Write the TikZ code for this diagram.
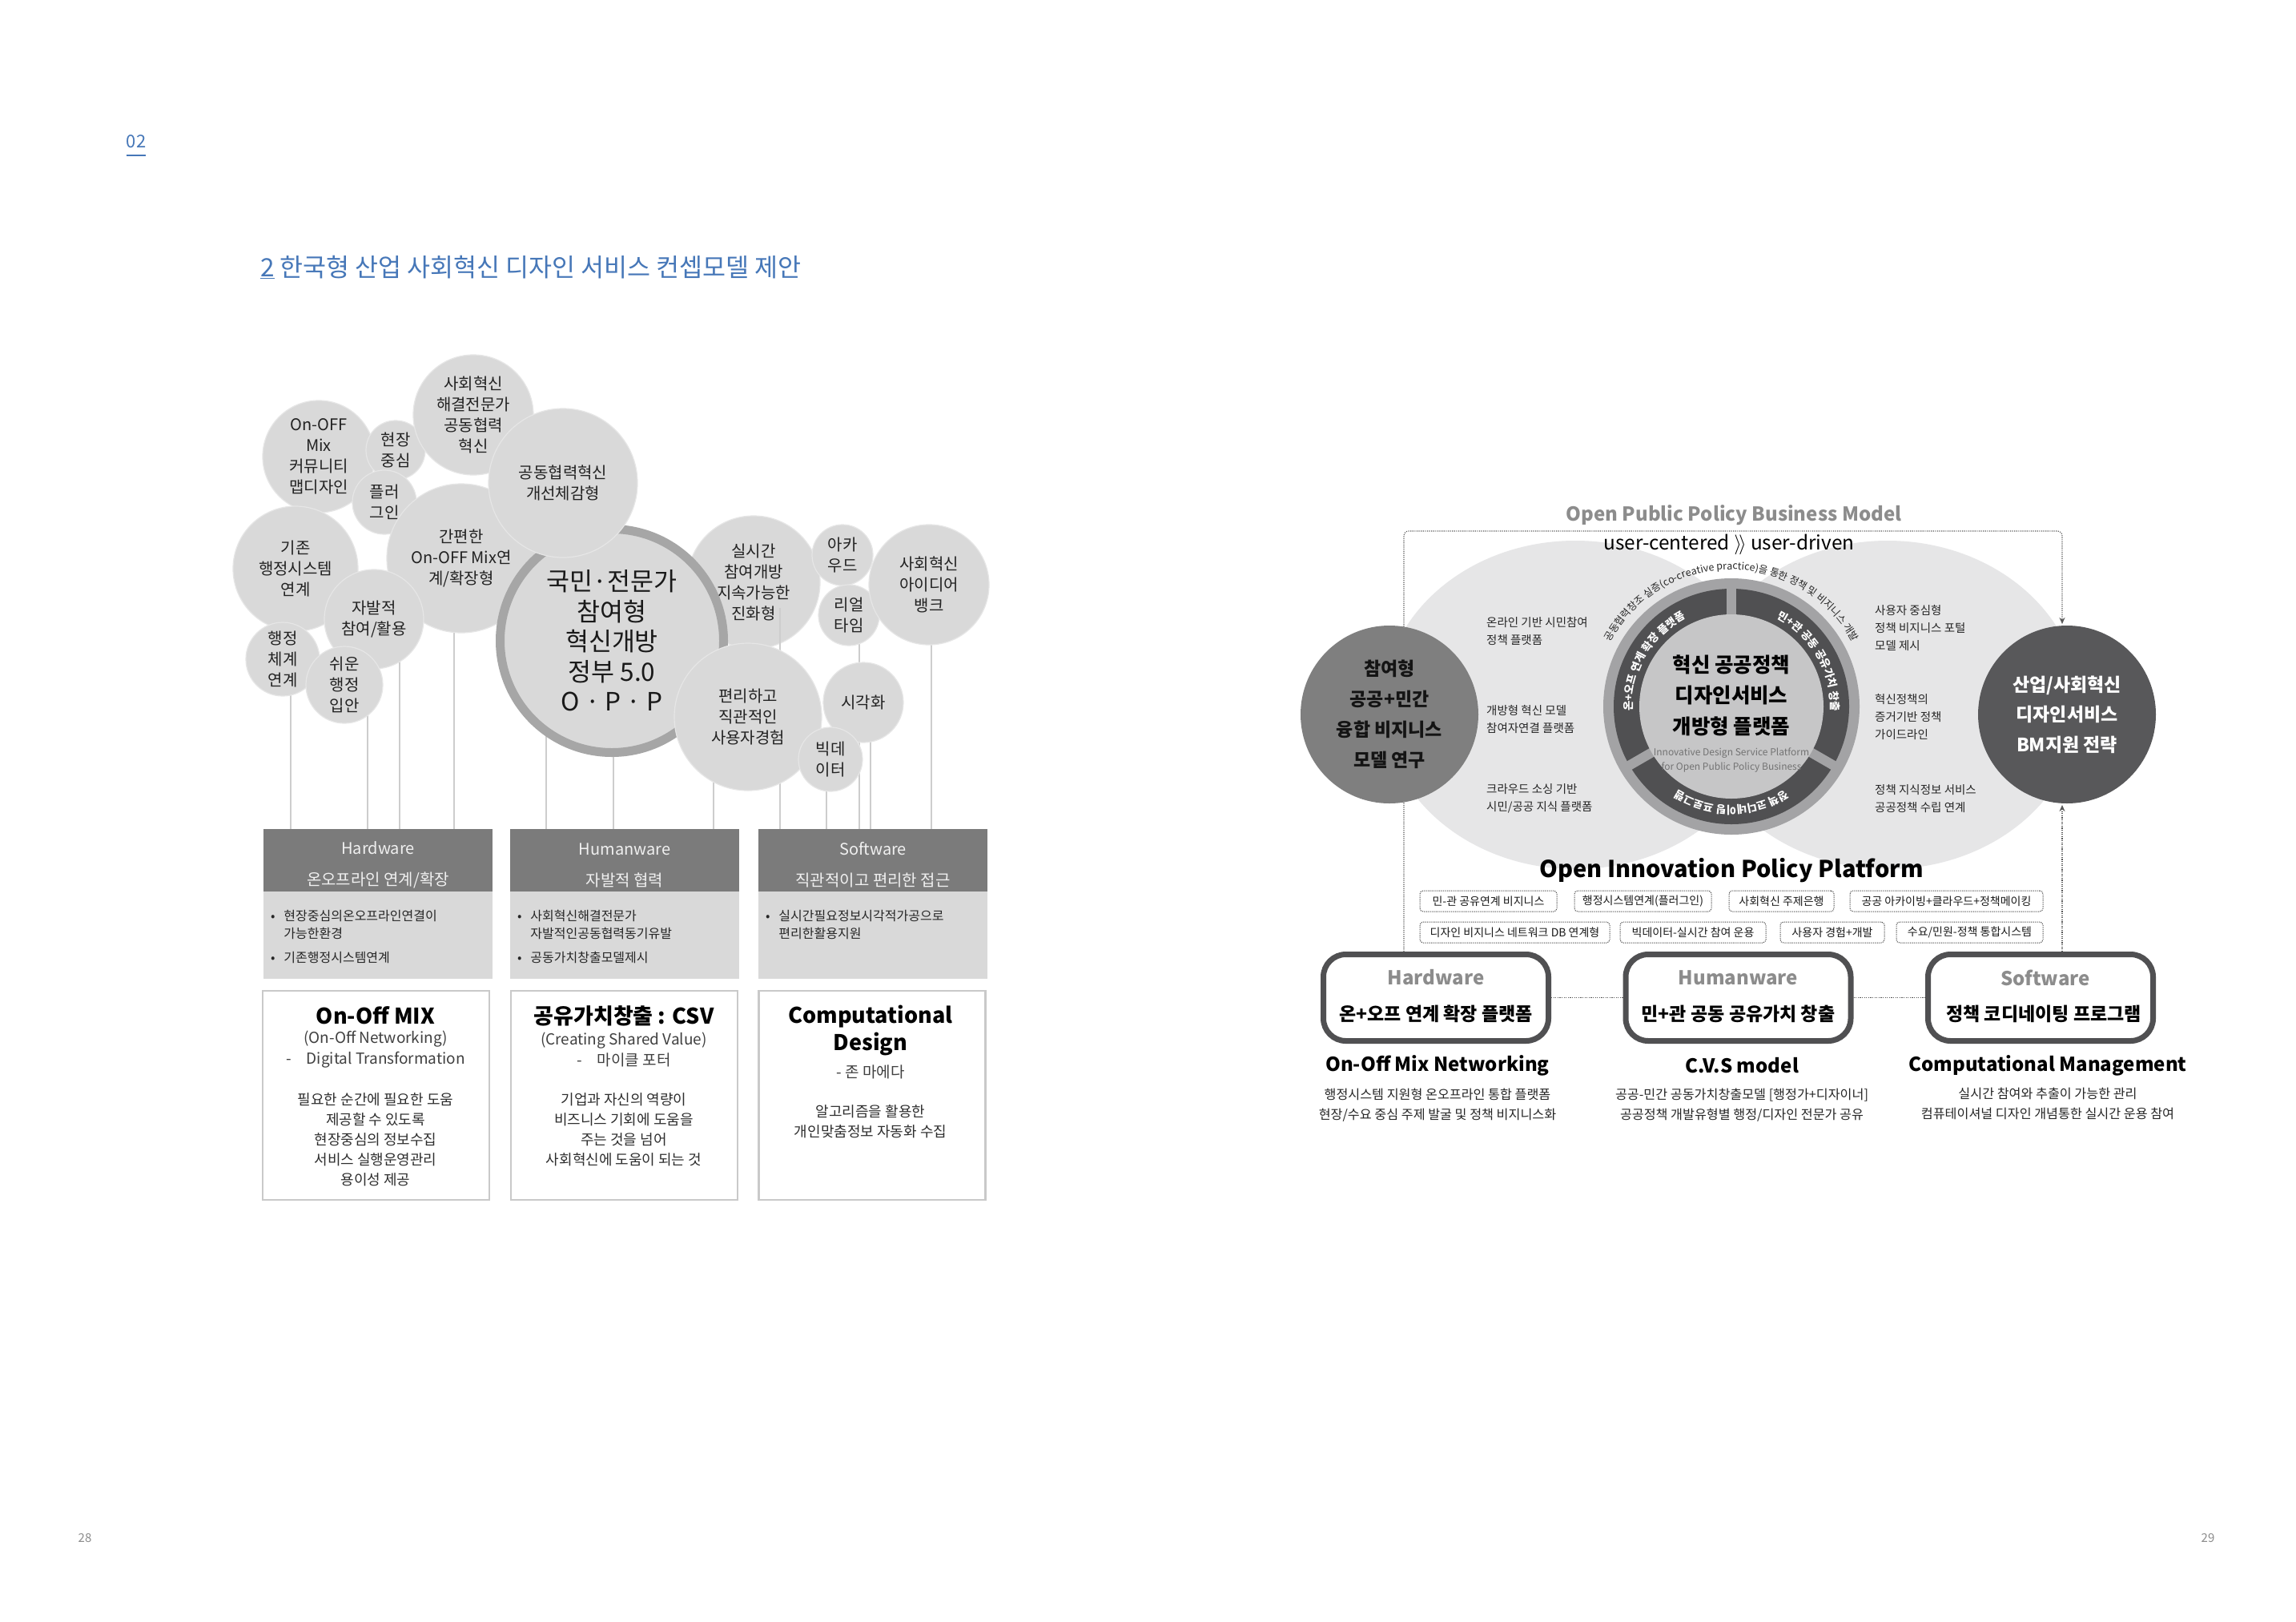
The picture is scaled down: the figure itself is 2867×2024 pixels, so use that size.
\documentclass[tikz,border=0pt]{standalone}
\usepackage{fontspec}
\setmainfont{Noto Sans CJK KR}
\usetikzlibrary{positioning,arrows.meta,decorations.text}

\definecolor{titleblue}{HTML}{4677B8}
\definecolor{bubfill}{HTML}{D9D9D9}
\definecolor{bubedge}{HTML}{E6E6E6}
\definecolor{bubtext}{HTML}{222222}
\definecolor{ringgray}{HTML}{A6A6A6}
\definecolor{stemgray}{HTML}{CDCDCD}
\definecolor{hdrgray}{HTML}{7B7B7B}
\definecolor{bodygray}{HTML}{D9D9D9}
\definecolor{wboxedge}{HTML}{C9C9C9}
\definecolor{softgray}{HTML}{E6E6E7}
\definecolor{midring}{HTML}{A3A3A5}
\definecolor{darkring}{HTML}{505052}
\definecolor{disc}{HTML}{C6C6C7}
\definecolor{leftgray}{HTML}{7F7F7F}
\definecolor{rightgray}{HTML}{58585A}
\definecolor{capgray}{HTML}{8C8C8C}

\pgfdeclarelayer{bg}
\pgfsetlayers{bg,main}

\tikzstyle{bub}=[circle, fill=bubfill, draw=bubedge, line width=1.2pt, inner sep=0pt, align=center, text=bubtext, font=\fontsize{20}{26}\selectfont]
\tikzstyle{bigbub}=[circle, fill=bubfill, draw=ringgray, line width=11pt, minimum size=279, inner sep=0pt, align=center, text=black!90, font=\fontsize{31.5}{37.5}\selectfont]
\tikzstyle{stem}=[draw=stemgray, line width=1.2pt]
\tikzstyle{hdr}=[fill=hdrgray, minimum width=286, minimum height=78, inner sep=0pt]
\tikzstyle{hdrtext}=[inner sep=0pt, align=center, text=white!94!black, font=\fontsize{20}{39}\selectfont]
\tikzstyle{bodybox}=[fill=bodygray, minimum width=286, minimum height=109, inner sep=0pt]
\tikzstyle{bul}=[anchor=north west, inner sep=0pt, text=black!85, font=\fontsize{16}{22}\selectfont]
\tikzstyle{wbox}=[draw=wboxedge, line width=2.5pt, fill=white, minimum width=283, minimum height=261, inner sep=0pt]
\tikzstyle{btitle}=[align=center, inner sep=0pt, font=\bfseries\fontsize{27}{34}\selectfont]
\tikzstyle{bsub}=[align=center, inner sep=0pt, text=black!75, font=\fontsize{19}{26}\selectfont]
\tikzstyle{bbody}=[align=center, inner sep=0pt, text=black!82, font=\fontsize{18}{25}\selectfont]
\tikzstyle{side}=[anchor=west, align=left, inner sep=0pt, text=black!85, font=\fontsize{14.5}{22}\selectfont]
\tikzstyle{tagbox}=[draw=black!70, line width=1pt, dash pattern=on 1.2pt off 1.2pt, rounded corners=4pt, fill=white, minimum height=26, inner sep=0pt, text=black!90, font=\fontsize{14}{14}\selectfont]
\tikzstyle{warebox}=[draw=darkring, line width=7pt, rounded corners=28pt, fill=white, minimum width=281, minimum height=108]
\tikzstyle{waretitle}=[inner sep=0pt, text=capgray, font=\bfseries\fontsize{24}{24}\selectfont]
\tikzstyle{warename}=[inner sep=0pt, font=\bfseries\fontsize{23}{23}\selectfont]
\tikzstyle{framedot}=[draw=black!65, line width=1.1pt, dash pattern=on 1.2pt off 1.4pt, rounded corners=6pt]
\tikzstyle{arrowtip}=[-{Stealth[length=8pt,width=7pt]}]
\tikzstyle{capname}=[inner sep=0pt, font=\bfseries\fontsize{24}{24}\selectfont]
\tikzstyle{capnote}=[align=center, inner sep=0pt, text=black!85, font=\fontsize{16.2}{25}\selectfont]
\tikzset{ringtext/.style={decorate, decoration={text along path, text align=center, text color=white, text={|\bfseries\fontsize{13.5}{13.5}\selectfont|#1}}}}
\tikzset{arctext/.style={decorate, decoration={text along path, text align=center, text color=black!85, text={|\fontsize{12.5}{12.5}\selectfont|#1}}}}

\begin{document}
\begin{tikzpicture}[x=1pt, y=-1pt]
	\useasboundingbox (0,0) rectangle (2867,2024);
	\begin{pgfonlayer}{bg}
		\fill[white] (0,0) rectangle (2867,2024);
	\end{pgfonlayer}

	% page heading
	\node[inner sep=0pt, text=titleblue, font=\fontsize{22}{22}\selectfont] (sec) at (170,177) {02};
	\draw[titleblue, line width=2pt] ([yshift=-9]sec.south west) -- ([yshift=-9]sec.south east);
	\node[anchor=west, inner sep=0pt, text=titleblue, font=\fontsize{31.5}{31.5}\selectfont] (ttl) at (325,334) {\underline{2} 한국형 산업 사회혁신 디자인 서비스 컨셉모델 제안};
	\node[text=black!45, font=\fontsize{15}{15}\selectfont] (pgl) at (106,1920) {28};
	\node[text=black!45, font=\fontsize{15}{15}\selectfont] (pgr) at (2757,1920) {29};

	% three ware headers
	\node[hdr] (hwh) at (472,1074) {};
	\node[hdr] (huh) at (780,1074) {};
	\node[hdr] (swh) at (1090,1074) {};
	\node[hdrtext] (hwhx) at ([yshift=-6]hwh.center) {Hardware\\온오프라인 연계/확장};
	\node[hdrtext] (huhx) at ([yshift=-6]huh.center) {Humanware\\자발적 협력};
	\node[hdrtext] (swhx) at ([yshift=-6]swh.center) {Software\\직관적이고 편리한 접근};
	\node[bodybox, below=0pt of hwh] (hwt) {};
	\node[bodybox, below=0pt of huh] (hut) {};
	\node[bodybox, below=0pt of swh] (swt) {};
	\node[bul] (hwl) at ([xshift=9,yshift=-21]hwt.north west) {\begin{tabular}{@{}l@{\hspace{11pt}}l@{}}•&현장중심의온오프라인연결이\\&가능한환경\\[8pt]•&기존행정시스템연계\end{tabular}};
	\node[bul] (hul) at ([xshift=9,yshift=-21]hut.north west) {\begin{tabular}{@{}l@{\hspace{11pt}}l@{}}•&사회혁신해결전문가\\&자발적인공동협력동기유발\\[8pt]•&공동가치창출모델제시\end{tabular}};
	\node[bul] (swl) at ([xshift=9,yshift=-21]swt.north west) {\begin{tabular}{@{}l@{\hspace{11pt}}l@{}}•&실시간필요정보시각적가공으로\\&편리한활용지원\end{tabular}};

	% concept boxes
	\node[wbox] (onb) at (469.5,1367.5) {};
	\node[wbox] (csb) at (779.5,1367.5) {};
	\node[wbox] (cdb) at (1089,1367.5) {};
	\node[btitle] (ont) at (469,1268) {On-Off MIX};
	\node[bsub] (ons) at (469,1310) {(On-Off Networking)\\-\quad Digital Transformation};
	\node[bbody] (onx) at (469,1423) {필요한 순간에 필요한 도움\\제공할 수 있도록\\현장중심의 정보수집\\서비스 실행운영관리\\용이성 제공};
	\node[btitle] (cst) at (779,1268) {공유가치창출 : CSV};
	\node[bsub] (css) at (779,1310) {(Creating Shared Value)\\-\quad 마이클 포터};
	\node[bbody] (csx) at (779,1410.5) {기업과 자신의 역량이\\비즈니스 기회에 도움을\\주는 것을 넘어\\사회혁신에 도움이 되는 것};
	\node[btitle] (cdt) at (1087,1286) {Computational\\Design};
	\node[bsub] (cds) at (1087,1338) {- 존 마에다};
	\node[bbody] (cdx) at (1087,1400) {알고리즘을 활용한\\개인맞춤정보 자동화 수집};

	% bubbles
	\node[bub, minimum size=140] (onoff) at (398,570) {On-OFF\\Mix\\커뮤니티\\맵디자인};
	\node[bub, minimum size=74] (hj) at (494,562) {현장\\중심};
	\node[bub, minimum size=150] (sh) at (591,518) {사회혁신\\해결전문가\\공동협력\\혁신};
	\node[bub, minimum size=80] (pl) at (480,627) {플러\\그인};
	\node[bub, minimum size=156] (gj) at (369,710) {기존\\행정시스템\\연계};
	\node[bub, minimum size=186] (gp) at (576,697) {간편한\\On-OFF Mix연\\계/확장형};
	\node[bub, minimum size=124] (jb) at (467,773) {자발적\\참여/활용};
	\node[bub, minimum size=92] (hc) at (353,823) {행정\\체계\\연계};
	\node[bub, minimum size=96] (sw) at (430,855) {쉬운\\행정\\입안};
	\node[bub, minimum size=166] (ss) at (941,727) {실시간\\참여개방\\지속가능한\\진화형};
	\draw[stem] ([xshift=33,yshift=-32]ss.center) -- ([xshift=33]ss.center |- swh.north);
	\node[bigbub] (opp) at (764,800) {국민·전문가\\참여형\\혁신개방\\정부 5.0\\O · P · P};
	\node[bub, minimum size=186] (gd) at (703,603) {공동협력혁신\\개선체감형};
	\node[bub, minimum size=76] (ak) at (1052,693) {아카\\우드};
	\node[bub, minimum size=76] (rt) at (1060,768) {리얼\\타임};
	\node[bub, minimum size=150] (ib) at (1160,730) {사회혁신\\아이디어\\뱅크};
	\node[bub, minimum size=184] (ph) at (934,895) {편리하고\\직관적인\\사용자경험};
	\node[bub, minimum size=100] (vz) at (1078,877) {시각화};
	\node[bub, minimum size=80] (bd) at (1037,948) {빅데\\이터};

	\begin{pgfonlayer}{bg}
		\foreach \bb/\dx/\hh in {hc/10/hwh, sw/29/hwh, jb/32/hwh, gp/-9/hwh, opp/-82/huh, opp/2/huh, ph/-43/huh, bd/-5/swh, rt/13/swh, vz/9/swh, ib/3/swh}
			\draw[stem] ([xshift=\dx]\bb.center) -- ([xshift=\dx]\bb.center |- \hh.north);
	\end{pgfonlayer}

	% right page: business model
	\fill[softgray] (1967,880) ellipse[x radius=240, y radius=205];
	\fill[softgray] (2357,880) ellipse[x radius=240, y radius=205];

	\node[inner sep=0pt, text=capgray, font=\bfseries\fontsize{24}{24}\selectfont] (opbm) at (2165,643) {Open Public Policy Business Model};
	\node[inner sep=0pt, font=\fontsize{24.4}{24.4}\selectfont] (uc) at (2159,680) {user-centered $\rangle\!\rangle$ user-driven};

	\node[warebox] (hwb) at (1793,1245.5) {};
	\node[warebox] (hub) at (2170.5,1245.5) {};
	\node[warebox] (swb) at (2548,1245.5) {};

	\coordinate (ftl) at (1753,663);
	\coordinate (ftr) at (2575,663);
	\draw[framedot, arrowtip] (hwb.north -| ftl) -- (ftl) -- (ftr) -- (2575,779);
	\draw[framedot, arrowtip] (swb.north -| ftr) -- (2575,1005);

	\begin{scope}[shift={(2162,882)}, y=1pt]
		\fill[midring] (0,0) circle[radius=160];
		\fill[darkring] (0,0) circle[radius=147];
		\foreach \a in {90,210,330}
			\draw[midring, line width=12pt] (0,0) -- (\a:152);
		\fill[disc] (0,0) circle[radius=115];
		\path[ringtext={온+오프 연계 확장 플랫폼}] (205:124) arc[start angle=205, end angle=95, radius=124];
		\path[ringtext={민+관 공동 공유가치 창출}] (85:124) arc[start angle=85, end angle=-25, radius=124];
		\path[ringtext={정책 코디네이팅 프로그램}] (325:124) arc[start angle=325, end angle=215, radius=124];
		\path[arctext={공동협력창조 실증(co-creative practice)을 통한 정책 및 비지니스 개발}] (168:171) arc[start angle=168, end angle=12, radius=171];
		\node[align=center, inner sep=0pt, font=\bfseries\fontsize{25.5}{38.5}\selectfont] (core) at (0,14) {혁신 공공정책\\디자인서비스\\개방형 플랫폼};
		\node[align=center, inner sep=0pt, text=black!55, font=\fontsize{12}{18}\selectfont] (coreen) at (0,-67) {Innovative Design Service Platform\\for Open Public Policy Business};
	\end{scope}

	\node[circle, fill=leftgray, minimum size=222, inner sep=0pt, align=center, text=black!92, font=\bfseries\fontsize{23}{38}\selectfont] (lc) at (1735,892) {참여형\\공공+민간\\융합 비지니스\\모델 연구};
	\node[circle, fill=rightgray, minimum size=222, inner sep=0pt, align=center, text=white, font=\bfseries\fontsize{23}{37.5}\selectfont] (rc) at (2581,892) {산업/사회혁신\\디자인서비스\\BM지원 전략};

	\node[side] (s1) at (1856,788) {온라인 기반 시민참여\\정책 플랫폼};
	\node[side] (s2) at (1856,898) {개방형 혁신 모델\\참여자연결 플랫폼};
	\node[side] (s3) at (1856,997) {크라우드 소싱 기반\\시민/공공 지식 플랫폼};
	\node[side] (s4) at (2341,784) {사용자 중심형\\정책 비지니스 포털\\모델 제시};
	\node[side] (s5) at (2341,895) {혁신정책의\\증거기반 정책\\가이드라인};
	\node[side] (s6) at (2341,997) {정책 지식정보 서비스\\공공정책 수립 연계};

	\node[inner sep=0pt, font=\bfseries\fontsize{29}{29}\selectfont] (oipp) at (2162,1087) {Open Innovation Policy Platform};

	\node[tagbox, minimum width=171] (t1) at (1858.5,1125) {민-관 공유연계 비지니스};
	\node[tagbox, minimum width=171] (t2) at (2051.5,1125) {행정시스템연계(플러그인)};
	\node[tagbox, minimum width=131] (t3) at (2224.5,1125) {사회혁신 주제은행};
	\node[tagbox, minimum width=241] (t4) at (2430.5,1125) {공공 아카이빙+클라우드+정책메이킹};
	\node[tagbox, minimum width=237] (t5) at (1891.5,1164) {디자인 비지니스 네트워크 DB 연계형};
	\node[tagbox, minimum width=182] (t6) at (2114,1164) {빅데이터-실시간 참여 운용};
	\node[tagbox, minimum width=130] (t7) at (2288,1164) {사용자 경험+개발};
	\node[tagbox, minimum width=183] (t8) at (2459.5,1164) {수요/민원-정책 통합시스템};

	\node[waretitle] (hwbt) at ([yshift=25]hwb.center) {Hardware};
	\node[warename] (hwbn) at ([yshift=-20]hwb.center) {온+오프 연계 확장 플랫폼};
	\node[waretitle] (hubt) at ([yshift=25]hub.center) {Humanware};
	\node[warename] (hubn) at ([yshift=-20]hub.center) {민+관 공동 공유가치 창출};
	\node[waretitle] (swbt) at ([xshift=6,yshift=25]swb.center) {Software};
	\node[warename] (swbn) at ([xshift=4,yshift=-20]swb.center) {정책 코디네이팅 프로그램};
	\draw[framedot] (hwb) -- (hub);
	\draw[framedot] (hub) -- (swb);

	\node[capname] (hwc) at (1795,1330) {On-Off Mix Networking};
	\node[capnote] (hwd) at (1795,1380) {행정시스템 지원형 온오프라인 통합 플랫폼\\현장/수요 중심 주제 발굴 및 정책 비지니스화};
	\node[capname] (huc) at (2175,1330) {C.V.S model};
	\node[capnote] (hud) at (2175,1380) {공공-민간 공동가치창출모델 [행정가+디자이너]\\공공정책 개발유형별 행정/디자인 전문가 공유};
	\node[capname] (swc) at (2557,1330) {Computational Management};
	\node[capnote] (swd) at (2557,1378) {실시간 참여와 추출이 가능한 관리\\컴퓨테이셔널 디자인 개념통한 실시간 운용 참여};
\end{tikzpicture}
\end{document}
